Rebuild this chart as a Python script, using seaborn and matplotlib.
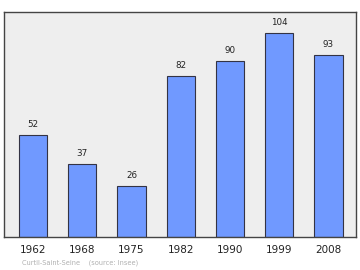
import matplotlib
matplotlib.use("Agg")
import matplotlib.pyplot as plt
import seaborn as sns
import pandas as pd

years = ["1962", "1968", "1975", "1982", "1990", "1999", "2008"]
population = [52, 37, 26, 82, 90, 104, 93]
caption = "Curtil-Saint-Seine    (source: Insee)"

df = pd.DataFrame({"year": years, "pop": population})

sns.set_style("white")
plt.rcParams['font.family'] = ['DejaVu Sans']

fig = plt.figure(figsize=(3.6, 2.7), dpi=100)
ax = fig.add_axes([4/360, 1 - 237/270, 352/360, 225/270])
ax.set_facecolor("#eeeeee")

sns.barplot(data=df, x="year", y="pop", ax=ax, color="#7099ff", saturation=1,
            width=0.57, edgecolor="#333344", linewidth=0.8)

for i, v in enumerate(population):
    ax.text(i, v + 5.4, str(v), ha="center", va="center", fontsize=6.3, color="#222222")

ax.set_xlim(-0.589, 6.558)
ax.set_ylim(0, 114.8)
ax.set_yticks([])
ax.set_xlabel("")
ax.set_ylabel("")
ax.tick_params(axis="x", length=0, pad=6, labelsize=7.5, colors="#222222")
for s in ax.spines.values():
    s.set_color("#444444")
    s.set_linewidth(1)

fig.text(22/360, 1 - 262.5/270, caption, fontsize=4.8, color="#b0b0b0", va="center", ha="left")

fig.savefig("out.png", dpi=100, facecolor="white")
